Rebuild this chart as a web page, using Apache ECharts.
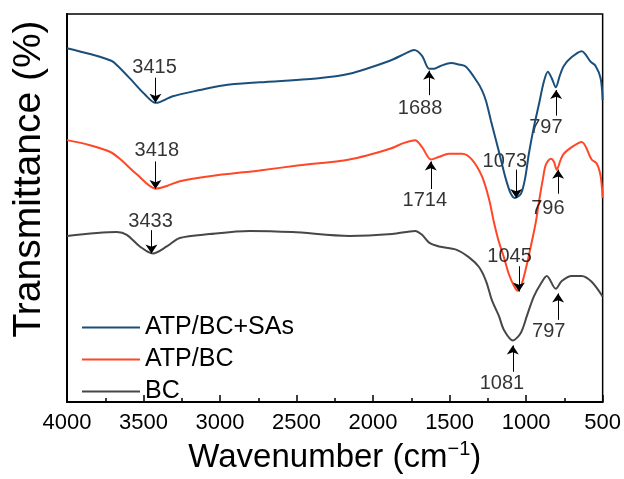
<!DOCTYPE html>
<html>
<head>
<meta charset="utf-8">
<script src="https://cdn.jsdelivr.net/npm/echarts@6/dist/echarts.min.js"></script>
<style>
  html, body { margin: 0; padding: 0; background: #fff; }
  #main { width: 624px; height: 479px; }
</style>
</head>
<body>
<div id="main"></div>
<script>
// wavenumber (cm-1) and transmittance (a.u.)
var wnSAs = [4000, 3850, 3707, 3668, 3589, 3492, 3422, 3394, 3309, 3133, 2983, 2742, 2370, 2155, 1895, 1784, 1732, 1680, 1634, 1600, 1560, 1491, 1440, 1393, 1321, 1289, 1262, 1230, 1197, 1165, 1132, 1100, 1074, 1034, 1008, 982, 950, 917, 884, 858, 832, 806, 780, 754, 702, 637, 578, 546, 513, 500];
var tSAs = [91.2, 89.7, 87.9, 86.6, 83.4, 79.3, 77.1, 77.3, 78.8, 80.4, 81.6, 82.4, 83.4, 84.6, 87.9, 89.9, 90.7, 89.2, 85.9, 85.9, 86.6, 87.4, 87.0, 86.4, 82.6, 80.4, 77.6, 72.5, 67.5, 62.5, 57.4, 53.7, 52.6, 53.7, 57.4, 64.0, 70.8, 76.6, 82.6, 85.1, 83.4, 81.1, 84.1, 86.6, 88.9, 90.4, 87.7, 86.6, 83.4, 77.8];

var wnATP = [4000, 3850, 3720, 3655, 3544, 3420, 3348, 3263, 3068, 2742, 2481, 2155, 1895, 1797, 1725, 1680, 1621, 1569, 1504, 1419, 1354, 1289, 1243, 1210, 1178, 1145, 1113, 1080, 1054, 1028, 995, 963, 937, 917, 891, 871, 839, 819, 800, 774, 754, 702, 637, 572, 539, 513, 500];
var tATP = [67.5, 66.2, 64.5, 62.7, 58.7, 55.0, 55.7, 56.9, 58.2, 59.7, 61.0, 62.5, 65.2, 66.8, 67.5, 65.7, 62.5, 63.2, 64.0, 64.0, 62.5, 58.2, 52.4, 46.3, 41.3, 37.3, 33.0, 30.0, 28.7, 30.5, 35.5, 41.3, 46.3, 51.4, 57.4, 61.2, 62.7, 62.0, 59.9, 62.5, 64.0, 65.7, 67.0, 62.5, 61.5, 58.2, 52.6];

var wnBC = [4000, 3674, 3609, 3524, 3439, 3348, 3263, 3068, 2807, 2527, 2155, 1875, 1725, 1680, 1634, 1569, 1458, 1373, 1308, 1262, 1223, 1178, 1145, 1087, 1034, 995, 950, 904, 865, 806, 767, 702, 637, 572, 500];
var tBC = [42.8, 43.8, 43.1, 40.1, 38.3, 40.1, 42.3, 43.3, 44.1, 43.8, 42.8, 43.3, 44.1, 43.1, 41.1, 40.1, 39.3, 37.3, 34.8, 31.2, 26.2, 22.2, 18.6, 15.9, 17.9, 22.2, 27.2, 30.5, 32.5, 29.2, 31.2, 32.5, 32.5, 31.0, 27.2];

var seriesNames = ['ATP/BC+SAs', 'ATP/BC', 'BC'];
var seriesColors = ['#1b4f7b', '#ff4726', '#474747'];
var xTicks = [4000, 3500, 3000, 2500, 2000, 1500, 1000, 500];

// peak labels: text, arrow wavenumber, arrow tail, arrow tip, text wavenumber, text height
var peakText = ['3415', '3418', '3433', '1688', '1714', '797', '1073', '796', '1045', '797', '1081'];
var arrowWn = [3422, 3422, 3448, 1634, 1623, 804, 1065, 791, 1047, 791, 1087];
var arrowTail = [83.6, 62.0, 44.3, 79.1, 54.9, 73.8, 59.9, 53.7, 35.0, 21.2, 7.8];
var arrowTip = [77.1, 54.9, 38.3, 85.4, 62.0, 80.4, 52.6, 59.9, 28.5, 28.0, 14.6];
var textWn = [3428, 3413, 3454, 1693, 1662, 871, 1139, 858, 1108, 852, 1158];
var textT = [86.1, 64.9, 46.6, 75.6, 51.9, 70.8, 62.1, 49.9, 37.5, 18.1, 4.8];

var font = 'Liberation Sans, Arial, sans-serif';

function zip(a, b) {
    var out = [];
    for (var i = 0; i < a.length; i++) out.push([a[i], b[i]]);
    return out;
}

var myChart = echarts.init(document.getElementById('main'));

var arrows = [];
var labels = [];
for (var i = 0; i < peakText.length; i++) {
    arrows.push([{ coord: [arrowWn[i], arrowTail[i]] }, { coord: [arrowWn[i], arrowTip[i]] }]);
    labels.push([textWn[i], textT[i], peakText[i]]);
}

var series = [];
var lines = [zip(wnSAs, tSAs), zip(wnATP, tATP), zip(wnBC, tBC)];
for (var k = 0; k < 3; k++) {
    series.push({
        name: seriesNames[k],
        type: 'line',
        data: lines[k],
        showSymbol: false,
        smooth: 0.3,
        lineStyle: { width: 2, color: seriesColors[k] },
        itemStyle: { color: seriesColors[k] },
        z: 3 - k
    });
}
// arrows
series.push({
    type: 'line',
    data: [],
    markLine: {
        silent: true,
        symbol: ['none', 'arrow'],
        symbolSize: 9,
        label: { show: false },
        lineStyle: { color: '#000', width: 1, type: 'solid' },
        itemStyle: { color: '#000' },
        data: arrows
    }
});
// peak texts
series.push({
    type: 'scatter',
    data: labels,
    symbolSize: 0,
    silent: true,
    itemStyle: { color: '#000' },
    label: {
        show: true,
        position: 'inside',
        color: '#000',
        textBorderWidth: 0,
        fontSize: 20,
        fontFamily: font,
        formatter: function (p) { return p.value[2]; }
    }
});

var option = {
    animation: false,
    backgroundColor: '#fff',
    grid: { left: 67, right: 20, top: 14, bottom: 68, show: true, borderColor: '#000', borderWidth: 1.5 },
    legend: {
        data: seriesNames,
        orient: 'vertical',
        left: 82,
        top: 315,
        padding: 0,
        itemWidth: 58,
        itemHeight: 2,
        itemGap: 7,
        icon: 'rect',
        textStyle: { fontSize: 25, fontFamily: font, color: '#000' }
    },
    xAxis: {
        type: 'value',
        inverse: true,
        min: 500,
        max: 4000,
        interval: 500,
        name: '{a|Wavenumber (cm}{b|−1}{a|)}',
        nameLocation: 'middle',
        nameGap: 23,
        nameTextStyle: {
            rich: {
                a: { fontSize: 33, fontFamily: font, color: '#000' },
                b: { fontSize: 20, fontFamily: font, color: '#000', padding: [0, 0, 17, 0] }
            }
        },
        axisLine: { lineStyle: { color: '#000', width: 2 } },
        axisTick: { inside: true, length: 7, lineStyle: { color: '#000', width: 1.5 } },
        minorTick: { show: true, splitNumber: 2, length: 4, lineStyle: { color: '#000', width: 1.5 } },
        axisLabel: {
            fontSize: 22, fontFamily: font, color: '#000', margin: 10,
            formatter: function (v) { return xTicks.indexOf(v) >= 0 ? String(v) : ''; }
        },
        splitLine: { show: false }
    },
    yAxis: {
        type: 'value',
        min: 0,
        max: 100,
        axisLine: { show: true, lineStyle: { color: '#000', width: 2 } },
        axisTick: { show: false },
        axisLabel: { show: false },
        splitLine: { show: false }
    },
    graphic: [{
        type: 'text',
        x: 29,
        y: 179,
        rotation: Math.PI / 2,
        style: {
            text: 'Transmittance (%)',
            fontSize: 39,
            fontFamily: font,
            fill: '#000',
            align: 'center',
            verticalAlign: 'middle'
        }
    }],
    series: series
};
myChart.setOption(option);
</script>
</body>
</html>
